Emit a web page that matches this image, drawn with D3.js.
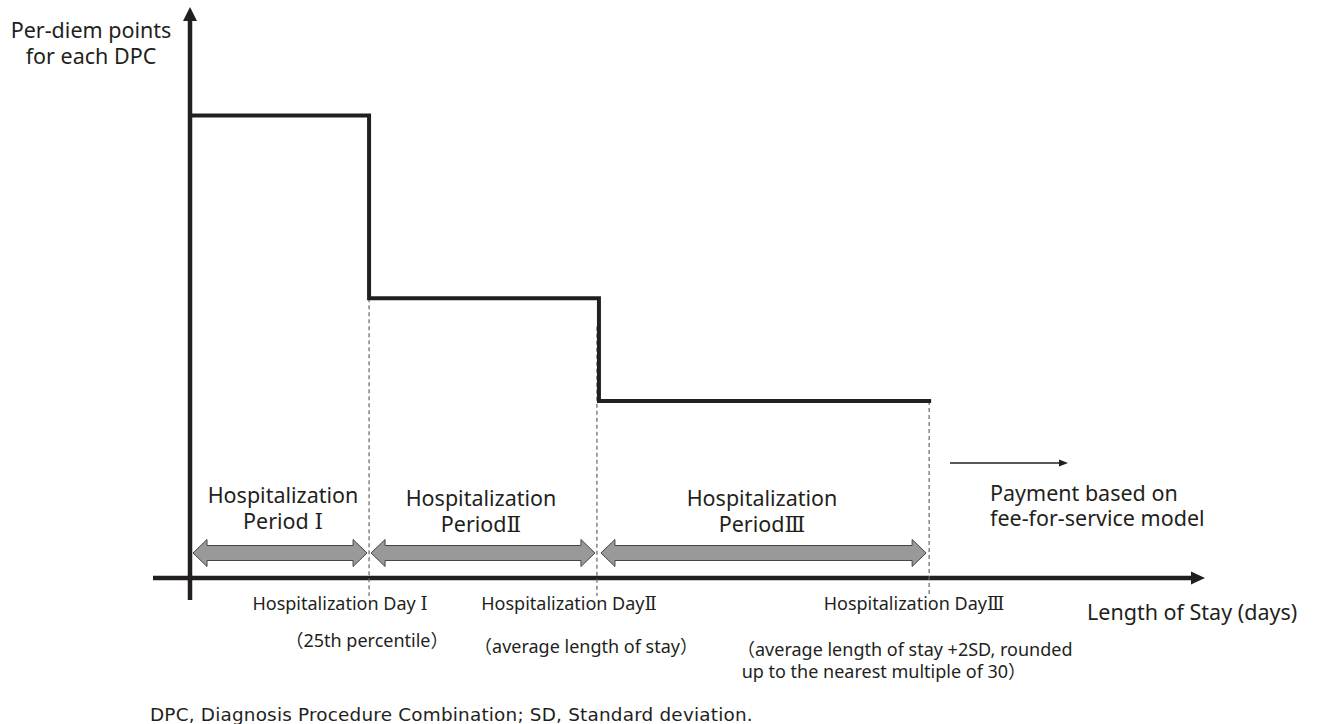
<!DOCTYPE html>
<html>
<head>
<meta charset="utf-8">
<script src="https://cdn.jsdelivr.net/npm/d3@7/dist/d3.min.js"></script>
<style>
  html, body { margin: 0; padding: 0; background: #fff; }
  svg { display: block; }
  text { font-family: "Noto Sans", "Noto Sans CJK JP", sans-serif; fill: #231f20; }
  .num { font-family: "DejaVu Serif", "Noto Sans CJK JP", serif; }
</style>
</head>
<body>
<svg id="chart" width="1325" height="724"></svg>
<script>
// ---- data (conceptual) ----
const dayBoundaries = [0, 7.05, 16.1, 29.1];          // start, Day I, Day II, Day III
const perDiemPoints = [81, 49, 31];                    // points in Period I, II, III
const numerals = ["Ⅰ", "Ⅱ", "Ⅲ"];
const periodLabels = [["Hospitalization", "Period "], ["Hospitalization", "Period"], ["Hospitalization", "Period"]];
const dayLabels = ["Hospitalization Day ", "Hospitalization Day", "Hospitalization Day"];
const dayNotes = [["（25th percentile）"], ["（average length of stay）"], ["（average length of stay +2SD, rounded", " up to the nearest multiple of 30）"]];
const yTitle = ["Per-diem points", "for each DPC"];
const xTitle = "Length of Stay (days)";
const paymentNote = ["Payment based on", "fee-for-service model"];
const footnote = "DPC, Diagnosis Procedure Combination; SD, Standard deviation.";

const svg = d3.select("#chart");
const ink = "#231f20";

const x = d3.scaleLinear().domain([0, 40]).range([190, 1206]);
const y = d3.scaleLinear().domain([0, 100]).range([578, 7]);

// ---- axes ----
svg.append("line").attr("x1", x(0) - 37).attr("x2", 1192).attr("y1", y(0)).attr("y2", y(0))
  .attr("stroke", ink).attr("stroke-width", 4.5);
svg.append("path").attr("d", `M1191,${y(0) - 6.5} L1205,${y(0)} L1191,${y(0) + 6.5} Z`).attr("fill", ink);
svg.append("line").attr("x1", x(0)).attr("x2", x(0)).attr("y1", y(0) + 22).attr("y2", 20)
  .attr("stroke", ink).attr("stroke-width", 4.5);
svg.append("path").attr("d", `M${x(0) - 7},21 L${x(0)},7 L${x(0) + 7},21 Z`).attr("fill", ink);

// ---- dashed guide lines ----
const guideTops = [perDiemPoints[1], perDiemPoints[1] - 5, perDiemPoints[2]];
svg.selectAll("line.guide").data(dayBoundaries.slice(1)).join("line")
  .attr("class", "guide")
  .attr("x1", (d, i) => x(d) - (i === 1 ? 2 : 0))
  .attr("x2", (d, i) => x(d) - (i === 1 ? 2 : 0))
  .attr("y1", (d, i) => y(guideTops[i]))
  .attr("y2", y(0) + 18)
  .attr("stroke", "#666").attr("stroke-width", 1.2).attr("stroke-dasharray", "4,3");

// ---- step line ----
const stepPts = [];
perDiemPoints.forEach((v, i) => {
  stepPts.push([dayBoundaries[i], v]);
  stepPts.push([dayBoundaries[i + 1], v]);
});
const stepLine = d3.line().x(d => x(d[0])).y(d => y(d[1]));
svg.append("path").datum(stepPts)
  .attr("d", stepLine)
  .attr("fill", "none").attr("stroke", ink).attr("stroke-width", 4).attr("stroke-linejoin", "miter")
  .attr("stroke-linecap", "square");

// ---- double arrows for periods ----
const arrowY = y(0) - 25;
function dblArrow(x0, x1) {
  const hl = 14, hh = 13.5, sh = 7.5;
  return `M${x0},${arrowY} L${x0 + hl},${arrowY - hh} L${x0 + hl},${arrowY - sh} L${x1 - hl},${arrowY - sh} L${x1 - hl},${arrowY - hh} L${x1},${arrowY} L${x1 - hl},${arrowY + hh} L${x1 - hl},${arrowY + sh} L${x0 + hl},${arrowY + sh} L${x0 + hl},${arrowY + hh} Z`;
}
const arrowPads = [[3, 2], [2, 4], [2, 3]];
svg.selectAll("path.period").data(perDiemPoints).join("path")
  .attr("class", "period")
  .attr("d", (d, i) => dblArrow(x(dayBoundaries[i]) + arrowPads[i][0], x(dayBoundaries[i + 1]) - arrowPads[i][1]))
  .attr("fill", "#999").attr("stroke", "#444").attr("stroke-width", 1);

// period labels
const periodCenters = [283, 481, 762];
const periodTop = [503, 506, 506];
periodLabels.forEach((lines, i) => {
  const t = svg.append("text").attr("text-anchor", "middle").attr("font-size", 21.5)
    .attr("xml:space", "preserve").style("white-space", "pre");
  t.append("tspan").attr("x", periodCenters[i]).attr("y", periodTop[i]).text(lines[0]);
  t.append("tspan").attr("x", periodCenters[i]).attr("y", periodTop[i] + 26).text(lines[1]);
  t.append("tspan").attr("class", "num").text(numerals[i]);
});

// day labels
const dayLabelX = [340, 569, 914];
dayLabels.forEach((d, i) => {
  const t = svg.append("text").attr("text-anchor", "middle").attr("font-size", 18)
    .attr("xml:space", "preserve").style("white-space", "pre")
    .attr("x", dayLabelX[i]).attr("y", 610);
  t.append("tspan").text(d);
  t.append("tspan").attr("class", "num").text(numerals[i]);
});

const noteX = [367, 586, 737];
const noteY = [647, 653, 656];
const noteAnchor = ["middle", "middle", "start"];
dayNotes.forEach((lines, i) => {
  const t = svg.append("text").attr("text-anchor", noteAnchor[i]).attr("font-size", 18)
    .attr("xml:space", "preserve").style("white-space", "pre");
  lines.forEach((ln, j) => {
    t.append("tspan").attr("x", noteX[i]).attr("y", noteY[i] + j * 22).text(ln);
  });
});

// y title
const yt = svg.append("text").attr("text-anchor", "middle").attr("font-size", 21.5);
yTitle.forEach((ln, j) => yt.append("tspan").attr("x", 91).attr("y", 38 + j * 26).text(ln));

// x title
svg.append("text").attr("x", 1087).attr("y", 620).attr("font-size", 21.5).text(xTitle);

// payment arrow + note
svg.append("line").attr("x1", 950).attr("x2", 1060).attr("y1", 463).attr("y2", 463)
  .attr("stroke", ink).attr("stroke-width", 1.5);
svg.append("path").attr("d", "M1059,459.5 L1068,463 L1059,466.5 Z").attr("fill", ink);
const pt = svg.append("text").attr("font-size", 21.5);
paymentNote.forEach((ln, j) => pt.append("tspan").attr("x", 990).attr("y", 501 + j * 25).text(ln));

// footnote
svg.append("text").attr("x", 150).attr("y", 721).attr("font-size", 18.4)
  .attr("letter-spacing", 0.2)
  .style("font-family", "'DejaVu Sans', Verdana, sans-serif").text(footnote);
</script>
</body>
</html>
